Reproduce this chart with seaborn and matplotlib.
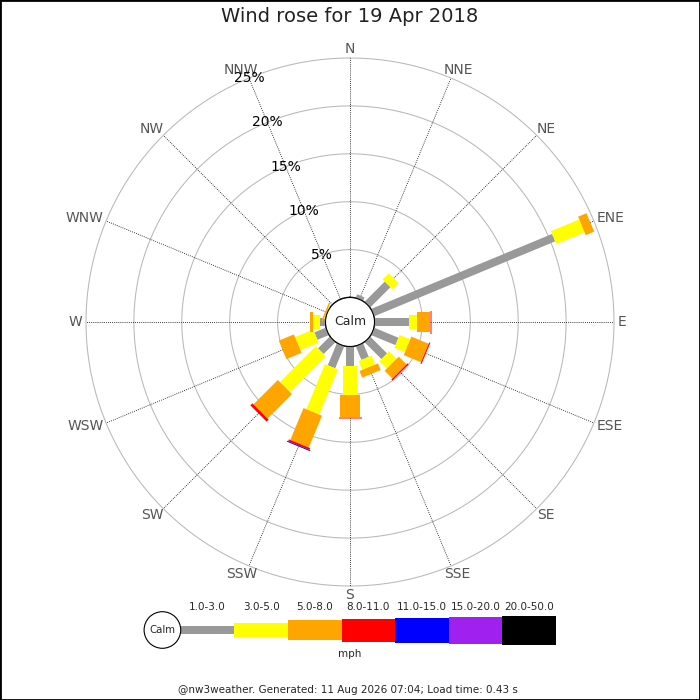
import numpy as np
import matplotlib
matplotlib.use("Agg")
import matplotlib.pyplot as plt
from matplotlib.patches import Circle, Rectangle
import seaborn as sns

# Wind rose data: percentage of the day per direction and speed bin
directions = ['N', 'NNE', 'NE', 'ENE', 'E', 'ESE', 'SE', 'SSE',
              'S', 'SSW', 'SW', 'WSW', 'W', 'WNW', 'NW', 'NNW']
speed_bins = ['1.0-3.0', '3.0-5.0', '5.0-8.0', '8.0-11.0',
              '11.0-15.0', '15.0-20.0', '20.0-50.0']
bin_colors = ['#999999', '#ffff00', '#ffa500', '#ff0000',
              '#0000ff', '#a020f0', '#000000']

pct_1_3 = [0, 0.4, 3.0, 20.45, 3.55, 2.75, 2.5, 1.55, 2.05, 2.5, 1.75, 1.3, 0.55, 0, 0, 0]
pct_3_5 = [0, 0, 0.9, 3.2, 0.9, 1.2, 1.1, 1.0, 3.05, 5.1, 5.3, 2.05, 0.75, 0.1, 0, 0]
pct_5_8 = [0, 0, 0, 0.95, 1.3, 1.95, 1.15, 0.75, 2.25, 3.6, 3.6, 1.7, 0.3, 0.15, 0, 0]
pct_8_11 = [0, 0, 0, 0, 0.1, 0.12, 0.15, 0, 0.1, 0.2, 0.3, 0, 0, 0, 0, 0]
pct_11_15 = [0, 0, 0, 0, 0, 0, 0, 0, 0, 0.1, 0, 0, 0, 0, 0, 0]
pct_15_20 = [0] * 16
pct_20_50 = [0] * 16

ring_ticks = [5, 10, 15, 20, 25]

title = 'Wind rose for 19 Apr 2018'
footer = '@nw3weather. Generated: 11 Aug 2026 07:04; Load time: 0.43 s'

sns.set_theme(style="white")
plt.rcParams['font.family'] = ['DejaVu Sans']

# bar thickness per speed bin (pixels)
bar_px = [8, 14, 20, 23, 25, 27, 29]

fig = plt.figure(figsize=(7, 7), dpi=100)

# full-figure axes in pixel units for title, legend and footer
ax_leg = fig.add_axes([0, 0, 1, 1])
ax_leg.set_xlim(0, 700)
ax_leg.set_ylim(700, 0)
ax_leg.axis('off')

R_px = 264
calm_px = 24.5
cx, cy = 350, 322
ax = fig.add_axes([(cx - R_px) / 700, (700 - cy - R_px) / 700,
                   2 * R_px / 700, 2 * R_px / 700], projection='polar')
ax.set_theta_zero_location('N')
ax.set_theta_direction(-1)
ax.set_ylim(0, 25)
ax.set_rorigin(-25 * calm_px / (R_px - calm_px))
ax.set_xticks([])
ax.set_yticks([])
ax.grid(False)
for s in ax.spines.values():
    s.set_visible(False)
ax.patch.set_alpha(0)

theta = np.deg2rad(np.arange(16) * 22.5)

# rings
circ = np.linspace(0, 2 * np.pi, 400)
for r in ring_ticks:
    ax.plot(circ, np.full_like(circ, r), color='#b8b8b8', lw=0.75, zorder=1, clip_on=False)

# spokes
for t in theta:
    ax.plot([t, t], [0, 25], color='black', ls=(0, (1, 1.5)), lw=0.6, zorder=1)

# direction labels: anchored just outside the outer ring, box pushed outward
renderer = fig.canvas.get_renderer()
lab_r = 25 + 4 * 25 / (R_px - calm_px)
for t, name in zip(theta, directions):
    txt = ax.annotate(name, xy=(t, lab_r), xytext=(0, 0), textcoords='offset pixels',
                      ha='center', va='center', fontsize=10, color='#555555',
                      annotation_clip=False)
    w = txt.get_window_extent(renderer).width
    txt.xyann = (w / 2 * np.sin(t), 5 * np.cos(t))

# percentage labels along NNW
for r in ring_ticks:
    ax.text(np.deg2rad(337.5), r, f'{r}%', ha='center', va='center',
            fontsize=10, color='black', zorder=6)

# stacked bars
stacks = np.array([pct_1_3, pct_3_5, pct_5_8, pct_8_11, pct_11_15, pct_15_20, pct_20_50])
tops = np.cumsum(stacks, axis=0)
bottoms = tops - stacks
for i in range(len(speed_bins)):
    for j in range(len(directions)):
        if stacks[i, j] > 0:
            ax.plot([theta[j], theta[j]], [bottoms[i, j], tops[i, j]],
                    color=bin_colors[i], lw=bar_px[i] * 0.72,
                    solid_capstyle='butt', zorder=3 + i, clip_on=False)

# calm circle
ax.add_patch(Circle((0.5, 0.5), calm_px / (2 * R_px), transform=ax.transAxes,
                    facecolor='white', edgecolor='black', lw=0.8, zorder=20, clip_on=False))
ax.text(0.5, 0.5, 'Calm', transform=ax.transAxes, ha='center', va='center',
        fontsize=9, zorder=21)

# title
ax_leg.text(350, 17, title, ha='center', va='center', fontsize=14, color='#222222')

# legend
seg_w = 53.6
leg_x = 180.7 + seg_w * np.arange(len(speed_bins))
leg_h = np.array(bar_px, dtype=float)
ax_leg.bar(leg_x, leg_h, width=seg_w, bottom=630 - leg_h / 2, align='edge',
           color=bin_colors, linewidth=0)
for x, lab in zip(leg_x, speed_bins):
    ax_leg.text(x + seg_w / 2, 607, lab, ha='center', va='center', fontsize=7.5)
ax_leg.add_patch(Circle((162.4, 630), 18.3, facecolor='white', edgecolor='black', lw=0.8))
ax_leg.text(162.4, 630, 'Calm', ha='center', va='center', fontsize=7.3)
ax_leg.text(350, 654, 'mph', ha='center', va='center', fontsize=7.5)

# footer
ax_leg.text(348, 690, footer, ha='center', va='center', fontsize=7.5)

fig.add_artist(Rectangle((0, 0), 1, 1, transform=fig.transFigure, fill=False,
                         edgecolor='black', lw=2))

fig.savefig('out.png', dpi=100)
